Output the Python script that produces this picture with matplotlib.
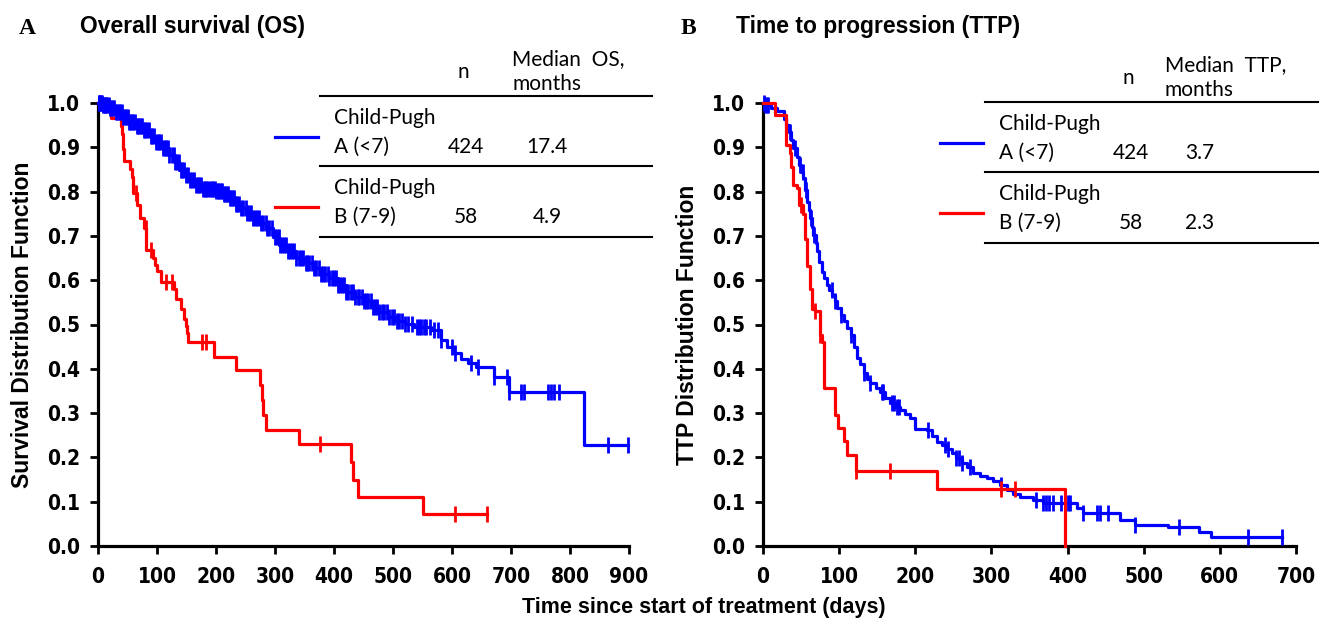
import numpy as np
import matplotlib
matplotlib.use("Agg")
import matplotlib.pyplot as plt
from matplotlib.lines import Line2D

W, H = 1322, 624
BLUE = "#0000ff"
RED = "#ff0000"

# ---- Overall survival (OS) ----
os_a_days = [0, 8, 20, 30, 42, 53, 65, 76, 87, 98, 110, 121, 130, 138, 147, 155,
             166, 177, 190, 200, 212, 223, 232, 240, 251, 262, 274, 285, 296, 307,
             322, 336, 350, 364, 378, 392, 406, 420, 435, 449, 463, 477, 491, 505,
             520, 536, 564, 581, 592, 604, 615, 627, 640, 671, 697, 824, 898]
os_a_surv = [1.0, 0.995, 0.988, 0.980, 0.969, 0.958, 0.948, 0.939, 0.926, 0.913,
             0.898, 0.883, 0.866, 0.849, 0.837, 0.826, 0.815, 0.806, 0.805, 0.802,
             0.794, 0.785, 0.773, 0.762, 0.751, 0.740, 0.728, 0.717, 0.698, 0.680,
             0.665, 0.650, 0.638, 0.627, 0.615, 0.604, 0.589, 0.574, 0.563, 0.552,
             0.540, 0.529, 0.518, 0.508, 0.502, 0.495, 0.487, 0.465, 0.450, 0.435,
             0.423, 0.412, 0.405, 0.382, 0.348, 0.228, 0.228]
os_a_cens = [1, 2, 3, 5, 7, 8, 10, 12, 14, 15, 18, 20, 22, 25, 27, 30, 33, 35, 38,
             40, 43, 45, 48, 50, 53, 55, 58, 60, 63, 66, 68, 70, 73, 75, 78, 80, 83,
             86, 89, 92, 95, 98, 101, 104, 107, 110, 113, 115, 118, 121, 125, 128,
             131, 134, 137, 140, 143, 146, 149, 152, 156, 160, 163, 166, 169, 172,
             175, 178, 181, 183, 186, 190, 193, 195, 198, 200, 203, 205, 208, 210,
             213, 215, 218, 220, 223, 226, 229, 231, 234, 236, 239, 242, 246, 250,
             253, 256, 259, 262, 266, 270, 273, 276, 280, 284, 287, 290, 295, 300,
             303, 306, 309, 312, 315, 318, 322, 326, 329, 332, 336, 340, 344, 348,
             352, 355, 358, 362, 366, 370, 374, 378, 382, 385, 389, 392, 396, 400,
             404, 407, 411, 414, 417, 420, 424, 428, 432, 436, 440, 443, 447, 450,
             454, 458, 462, 466, 470, 473, 477, 481, 485, 490, 494, 498, 502, 506,
             510, 515, 520, 525, 533, 540, 544, 548, 552, 556, 563, 570, 576, 582,
             600, 605, 632, 644, 671, 694, 697, 717, 722, 762, 767, 773, 782, 864,
             898]

os_b_days = [0, 8, 22, 39, 41, 43, 44, 55, 57, 59, 66, 72, 78, 82, 93, 97, 100,
             107, 128, 133, 140, 146, 149, 150, 152, 197, 234, 275, 278, 279, 284,
             340, 429, 432, 440, 550, 660]
os_b_surv = [1.0, 0.983, 0.966, 0.948, 0.931, 0.897, 0.869, 0.851, 0.833, 0.797,
             0.770, 0.740, 0.717, 0.668, 0.649, 0.635, 0.620, 0.597, 0.580, 0.557,
             0.535, 0.513, 0.497, 0.480, 0.461, 0.427, 0.397, 0.363, 0.330, 0.296,
             0.262, 0.230, 0.190, 0.150, 0.111, 0.073, 0.073]
os_b_cens = [64, 81, 90, 115, 126, 176, 183, 376, 605, 660]

# ---- Time to progression (TTP) ----
ttp_a_days = [0, 3, 10, 18, 27, 30, 34, 37, 40, 44, 47, 50, 53, 55, 58, 60, 62, 64,
              66, 69, 71, 74, 77, 80, 84, 87, 91, 94, 97, 102, 106, 110, 115, 119,
              123, 127, 132, 137, 141, 148, 154, 160, 167, 174, 180, 187, 193, 200,
              215, 222, 228, 235, 241, 248, 254, 261, 268, 276, 285, 294, 302, 311,
              320, 328, 337, 355, 368, 412, 420, 469, 489, 532, 572, 589, 682]
ttp_a_surv = [1.0, 0.996, 0.988, 0.981, 0.965, 0.950, 0.935, 0.916, 0.898, 0.879,
              0.860, 0.845, 0.830, 0.803, 0.777, 0.758, 0.740, 0.721, 0.702, 0.684,
              0.665, 0.642, 0.619, 0.604, 0.589, 0.578, 0.567, 0.552, 0.537, 0.522,
              0.507, 0.492, 0.476, 0.450, 0.425, 0.410, 0.390, 0.378, 0.367, 0.357,
              0.348, 0.335, 0.322, 0.314, 0.307, 0.297, 0.288, 0.265, 0.262, 0.248,
              0.235, 0.228, 0.220, 0.209, 0.198, 0.188, 0.179, 0.164, 0.158, 0.153,
              0.146, 0.138, 0.126, 0.118, 0.111, 0.104, 0.096, 0.085, 0.074, 0.059,
              0.047, 0.043, 0.032, 0.020, 0.020]
ttp_a_cens = [1, 3, 5, 7, 35, 42, 48, 52, 56, 63, 67, 90, 94, 103, 115, 132, 141,
              156, 158, 169, 172, 176, 178, 217, 239, 243, 254, 258, 261, 272, 313,
              359, 368, 372, 376, 381, 392, 396, 400, 403, 420, 438, 442, 453, 489,
              546, 637, 681]

ttp_b_days = [0, 16, 30, 35, 37, 40, 44, 47, 52, 55, 58, 62, 65, 68, 75, 77, 80,
              95, 98, 106, 110, 122, 228, 397]
ttp_b_surv = [1.0, 0.974, 0.905, 0.888, 0.856, 0.815, 0.807, 0.770, 0.750, 0.694,
              0.633, 0.580, 0.536, 0.530, 0.476, 0.461, 0.356, 0.296, 0.267, 0.236,
              0.206, 0.170, 0.128, 0.0]
ttp_b_cens = [50, 68, 75, 122, 167, 313, 331]

BOLD_FONT = ["Liberation Sans", "DejaVu Sans"]
TABLE_FONT = ["Lato", "DejaVu Sans"]
TS = 15  # table font size


def fx(x):
    return x / W


def fy(y):
    return 1 - y / H


def km(ax, days, surv, cens, color):
    days = np.asarray(days, float)
    surv = np.asarray(surv, float)
    ax.step(days, surv, where="post", color=color, lw=2.3, clip_on=False, zorder=3)
    cens = np.asarray(cens, float)
    idx = np.searchsorted(days, cens, side="right") - 1
    ax.plot(cens, surv[idx], linestyle="none", marker="|", ms=12, mew=2.0,
            color=color, clip_on=False, zorder=3)


def setup(ax, xmax, ylabel):
    ax.set_xlim(0, xmax)
    ax.set_ylim(0, 1.0)
    ax.set_xticks(np.arange(0, xmax + 1, 100))
    ax.set_yticks(np.round(np.arange(0, 1.01, 0.1), 1))
    ax.set_yticklabels([f"{v:.1f}" for v in np.arange(0, 1.01, 0.1)])
    for s in ("top", "right"):
        ax.spines[s].set_visible(False)
    for s in ("left", "bottom"):
        ax.spines[s].set_linewidth(2.3)
    ax.tick_params(width=2.0, length=6, direction="out", pad=7)
    ax.tick_params(axis="x", pad=9)
    for lab in ax.get_xticklabels() + ax.get_yticklabels():
        lab.set_family("DejaVu Sans")
        lab.set_stretch("condensed")
        lab.set_fontweight("bold")
        lab.set_fontsize(15)
    ax.set_ylabel(ylabel, family=BOLD_FONT, fontweight="bold", fontsize=16.5, labelpad=9)


def legend_table(fig, x0, x1, ytop, col_n, col_med, med_label, rows):
    # header
    fig.text(fx(col_n), fy(ytop - 24), "n", family=TABLE_FONT, fontsize=TS,
             ha="center", va="center")
    fig.text(fx(col_med - 35), fy(ytop - 37), med_label, family=TABLE_FONT,
             fontsize=TS, ha="left", va="center")
    fig.text(fx(col_med - 35), fy(ytop - 12), "months", family=TABLE_FONT,
             fontsize=TS, ha="left", va="center")
    lines_y = [ytop, ytop + 70, ytop + 141]
    for ly in lines_y:
        fig.add_artist(Line2D([fx(x0), fx(x1)], [fy(ly), fy(ly)], color="black", lw=1.5))
    for i, (color, grp, n, med) in enumerate(rows):
        base = lines_y[i]
        fig.add_artist(Line2D([fx(x0 - 45), fx(x0 - 2)], [fy(base + 41), fy(base + 41)],
                              color=color, lw=2.3))
        fig.text(fx(x0 + 14), fy(base + 22), "Child-Pugh", family=TABLE_FONT,
                 fontsize=TS, ha="left", va="center")
        fig.text(fx(x0 + 14), fy(base + 51), grp, family=TABLE_FONT,
                 fontsize=TS, ha="left", va="center")
        fig.text(fx(col_n + 3), fy(base + 51), n, family=TABLE_FONT,
                 fontsize=TS, ha="center", va="center")
        fig.text(fx(col_med), fy(base + 51), med, family=TABLE_FONT,
                 fontsize=TS, ha="center", va="center")


fig = plt.figure(figsize=(W / 100, H / 100), dpi=100)
ax1 = fig.add_axes([fx(98), fy(546), (629 - 98) / W, (546 - 103) / H])
ax2 = fig.add_axes([fx(763), fy(546), (1296 - 763) / W, (546 - 103) / H])

km(ax1, os_b_days, os_b_surv, os_b_cens, RED)
km(ax1, os_a_days, os_a_surv, os_a_cens, BLUE)
setup(ax1, 900, "Survival Distribution Function")

km(ax2, ttp_a_days, ttp_a_surv, ttp_a_cens, BLUE)
km(ax2, ttp_b_days, ttp_b_surv, ttp_b_cens, RED)
setup(ax2, 700, "TTP Distribution Function")

serif = ["Liberation Serif", "DejaVu Serif"]
fig.text(fx(19), fy(28), "A", family=serif, fontweight="bold", fontsize=17,
         va="center", ha="left")
fig.text(fx(80), fy(27), "Overall survival (OS)", family=BOLD_FONT,
         fontweight="bold", fontsize=16.5, va="center", ha="left")
fig.text(fx(681), fy(28), "B", family=serif, fontweight="bold", fontsize=17,
         va="center", ha="left")
fig.text(fx(736), fy(27), "Time to progression (TTP)", family=BOLD_FONT,
         fontweight="bold", fontsize=16.5, va="center", ha="left")
fig.text(fx(704), fy(608), "Time since start of treatment (days)", family=BOLD_FONT,
         fontweight="bold", fontsize=15.5, va="center", ha="center")

legend_table(fig, 320, 652, 96, 463, 547, "Median  OS,",
             [(BLUE, "A (<7)", "424", "17.4"), (RED, "B (7-9)", "58", "4.9")])
legend_table(fig, 985, 1318, 102, 1128, 1200, "Median  TTP,",
             [(BLUE, "A (<7)", "424", "3.7"), (RED, "B (7-9)", "58", "2.3")])

fig.savefig("out.png", dpi=100)
